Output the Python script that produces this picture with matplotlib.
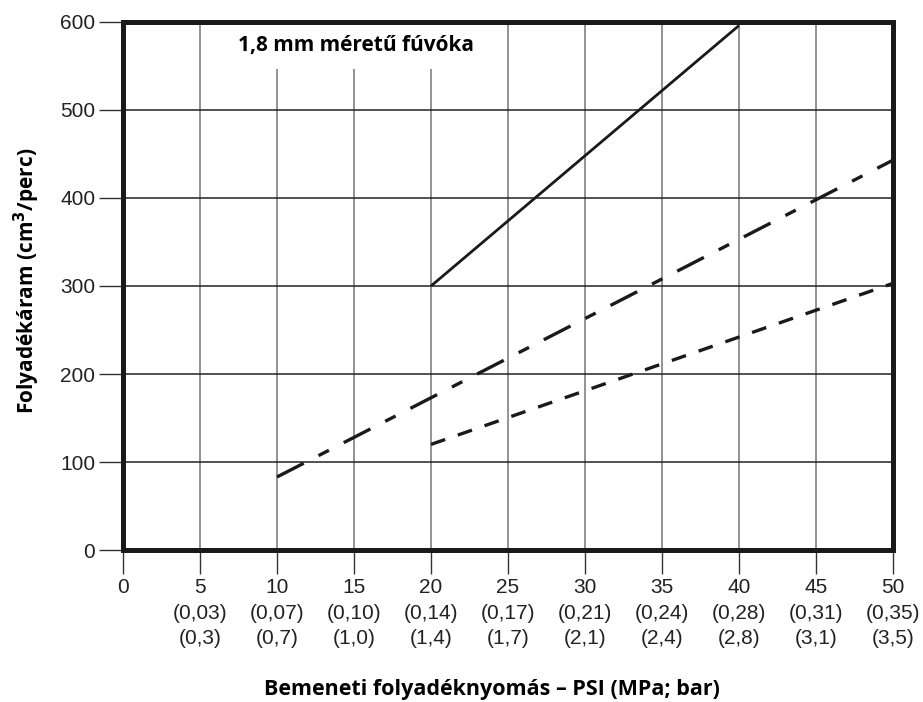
import matplotlib
matplotlib.use("Agg")
import matplotlib.pyplot as plt

# data
psi_ticks = [0, 5, 10, 15, 20, 25, 30, 35, 40, 45, 50]
mpa_labels = ["", "(0,03)", "(0,07)", "(0,10)", "(0,14)", "(0,17)", "(0,21)",
              "(0,24)", "(0,28)", "(0,31)", "(0,35)"]
bar_labels = ["", "(0,3)", "(0,7)", "(1,0)", "(1,4)", "(1,7)", "(2,1)",
              "(2,4)", "(2,8)", "(3,1)", "(3,5)"]
flow_ticks = [0, 100, 200, 300, 400, 500, 600]

solid_x = [20, 40]
solid_y = [300, 596]
dashdot_x = [10, 50]
dashdot_y = [83, 443]
dashed_x = [20, 50]
dashed_y = [120, 303]

tick_font = ["Liberation Sans", "DejaVu Sans"]
label_font = ["Open Sans", "DejaVu Sans"]

fig = plt.figure(figsize=(9.23, 7.02), dpi=100)
ax = fig.add_axes([0.1333, 0.2165, 0.8342, 0.7522])

ax.set_xlim(0, 50)
ax.set_ylim(0, 600)

# grid
for x in psi_ticks[1:-1]:
    ax.axvline(x, color="#8a8a8a", lw=1.3, zorder=1)
for y in flow_ticks[1:-1]:
    ax.axhline(y, color="#222222", lw=1.1, zorder=1)

ax.plot(solid_x, solid_y, color="#1a1a1a", lw=2.0, solid_capstyle="butt", zorder=3)
ax.plot(dashdot_x, dashdot_y, color="#1a1a1a", lw=2.4, dashes=(9, 5, 3.5, 5), zorder=3)
ax.plot(dashed_x, dashed_y, color="#1a1a1a", lw=2.4, dashes=(4.5, 4), zorder=3)

ax.text(15.1, 573, "1,8 mm méretű fúvóka", fontsize=15, fontweight="bold",
        family=label_font, ha="center", va="center", zorder=2,
        bbox=dict(facecolor="white", edgecolor="none", pad=9))

for s in ax.spines.values():
    s.set_linewidth(3.6)
    s.set_color("#1a1a1a")
    s.set_zorder(5)

ax.set_xticks(psi_ticks)
ax.set_xticklabels([f"{p}\n{m}\n{b}" if m else f"{p}" for p, m, b in zip(psi_ticks, mpa_labels, bar_labels)],
                   family=tick_font, fontsize=15, linespacing=1.45, color="#222222")
ax.set_yticks(flow_ticks)
ax.set_yticklabels([str(v) for v in flow_ticks], family=tick_font, fontsize=15, color="#222222")
ax.tick_params(axis="x", length=17, width=1.0, color="#333333", pad=3)
ax.tick_params(axis="y", length=17, width=1.0, color="#333333", pad=3)

fig.text(27 / 923, 0.6, "Folyadékáram (cm$^\\mathbf{3}$/perc)", family=label_font, fontsize=15,
         fontweight="bold", rotation=90, ha="center", va="center")
fig.text(0.533, 0.01, "Bemeneti folyadéknyomás – PSI (MPa; bar)", family=label_font,
         fontsize=15.5, fontweight="bold", ha="center", va="baseline")

fig.savefig("out.png", dpi=100)
